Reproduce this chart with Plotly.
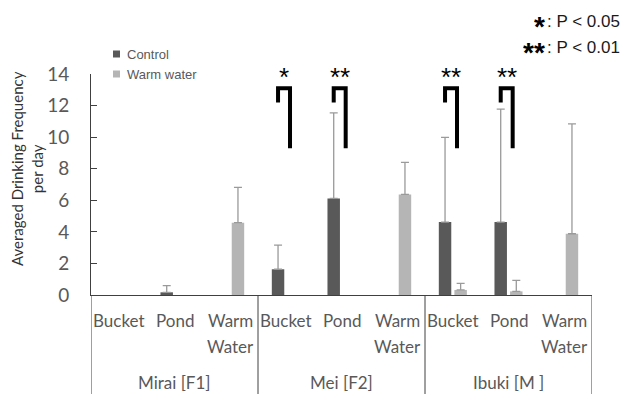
import plotly.graph_objects as go

# ---------------- data ----------------
groups = ["Mirai [F1]", "Mei [F2]", "Ibuki [M ]"]
conditions = ["Bucket", "Pond", "Warm\nWater"]
y_ticks = [0, 2, 4, 6, 8, 10, 12, 14]

control_mean = [None, 0.17, None, 1.63, 6.12, None, 4.62, 4.62, None]
control_sd = [None, 0.42, None, 1.53, 5.42, None, 5.36, 7.15, None]
warm_mean = [None, None, 4.58, None, None, 6.37, 0.32, 0.23, 3.88]
warm_sd = [None, None, 2.24, None, None, 2.03, 0.42, 0.70, 6.96]

sig_index = [3, 4, 6, 7]
sig_label = ["*", "**", "**", "**"]

key_marks = ["*", "**"]
key_texts = [": P < 0.05", ": P < 0.01"]

series_names = ["Control", "Warm water"]
# --------------------------------------

W, H = 624, 394
L, R, T, B = 91, 32, 74, 99
pw, ph = W - L - R, H - T - B

def px(xp):
    return (xp - L) / pw

def py(yp):
    return (H - B - yp) / ph

C_CTRL = "#595959"
C_WARM = "#b5b5b5"
C_ERR = "#9a9a9a"
TXT = "#595959"
LINE = "#404040"

n_cat = len(groups) * len(conditions)
xs = list(range(n_cat))

fig = go.Figure()
for name, mean, sd, col in [(series_names[0], control_mean, control_sd, C_CTRL),
                            (series_names[1], warm_mean, warm_sd, C_WARM)]:
    fig.add_trace(go.Bar(
        x=xs, y=mean, name=name,
        marker=dict(color=col, line=dict(width=0)),
        error_y=dict(type="data", array=[s if s is not None else 0 for s in sd],
                     arrayminus=[0] * n_cat, symmetric=False,
                     color=C_ERR, thickness=1.3, width=4),
        showlegend=False,
    ))

shapes = []
annotations = []

# category labels and group labels
for gi, g in enumerate(groups):
    for ci, c in enumerate(conditions):
        idx = gi * len(conditions) + ci
        for li, line in enumerate(c.split("\n")):
            annotations.append(dict(
                x=idx, xref="x", y=py(320 + 26 * li), yref="paper",
                text=line, showarrow=False, xanchor="center", yanchor="middle",
                font=dict(family="Lato", size=17, color=TXT)))
    annotations.append(dict(
        x=gi * len(conditions) + (len(conditions) - 1) / 2, xref="x",
        y=py(382), yref="paper", text=g, showarrow=False,
        xanchor="center", yanchor="middle",
        font=dict(family="Lato", size=17, color=TXT)))

# dividers
for k in range(len(groups) + 1):
    xv = k * len(conditions) - 0.5
    shapes.append(dict(type="line", xref="x", yref="paper",
                       x0=xv, x1=xv, y0=0, y1=py(H),
                       line=dict(color=LINE, width=1)))

# significance brackets
for idx, lab in zip(sig_index, sig_label):
    xl, xr = idx - 0.14, idx + 0.075
    path = f"M {xl},12.2 L {xl},13.1 L {xr},13.1 L {xr},9.3"
    shapes.append(dict(type="path", xref="x", yref="y", path=path,
                       line=dict(color="black", width=4)))
    annotations.append(dict(
        x=idx - 0.03, xref="x", y=py(77), yref="paper", text=lab,
        showarrow=False, xanchor="center", yanchor="middle",
        font=dict(family="Liberation Sans", size=26, color="black")))

# key (top right)
for i, (m, t) in enumerate(zip(key_marks, key_texts)):
    yc = 21 + 26 * i
    annotations.append(dict(
        x=px(622), xref="paper", y=py(yc), yref="paper", text=t,
        showarrow=False, xanchor="right", yanchor="middle", height=22,
        font=dict(family="Liberation Sans", size=17, color="#1a1a1a")))
    annotations.append(dict(
        x=px(547), xref="paper", y=py(yc + 5), yref="paper", text="<b>" + m + "</b>",
        showarrow=False, xanchor="right", yanchor="middle", height=24,
        font=dict(family="Liberation Sans", size=28, color="black")))

# custom legend
for i, (name, col) in enumerate(zip(series_names, [C_CTRL, C_WARM])):
    yc = 54 + 20 * i
    shapes.append(dict(type="rect", xref="paper", yref="paper",
                       x0=px(113), x1=px(120), y0=py(yc + 3.5), y1=py(yc - 3.5),
                       fillcolor=col, line=dict(width=0)))
    annotations.append(dict(
        x=px(125), xref="paper", y=py(yc), yref="paper", text=name,
        showarrow=False, xanchor="left", yanchor="middle",
        font=dict(family="Liberation Sans", size=13, color=TXT)))

# y title
annotations.append(dict(
    x=px(27), xref="paper", y=py(169), yref="paper",
    text="Averaged Drinking Frequency<br>per day", textangle=-90,
    showarrow=False, xanchor="center", yanchor="middle",
    font=dict(family="Lato", size=15, color="#333333")))

fig.update_layout(
    width=W, height=H,
    margin=dict(l=L, r=R, t=T, b=B, pad=0),
    paper_bgcolor="white", plot_bgcolor="white",
    barmode="group", bargap=0.44, bargroupgap=0.2,
    shapes=shapes, annotations=annotations,
    xaxis=dict(range=[-0.5, n_cat - 0.5], showticklabels=False, ticks="",
               showgrid=False, zeroline=False, showline=True,
               linecolor=LINE, linewidth=1),
    yaxis=dict(range=[0, 14], tickvals=y_ticks, ticks="inside", ticklen=6,
               tickcolor=LINE, showgrid=False, zeroline=False, showline=True,
               linecolor=LINE, linewidth=1, ticklabelstandoff=17,
               tickfont=dict(family="Lato", size=19, color=TXT)),
)

fig.write_html(
    "out.html",
    config={"displayModeBar": False},
    post_script="document.body.style.margin='0';document.body.style.overflow='hidden';",
)
